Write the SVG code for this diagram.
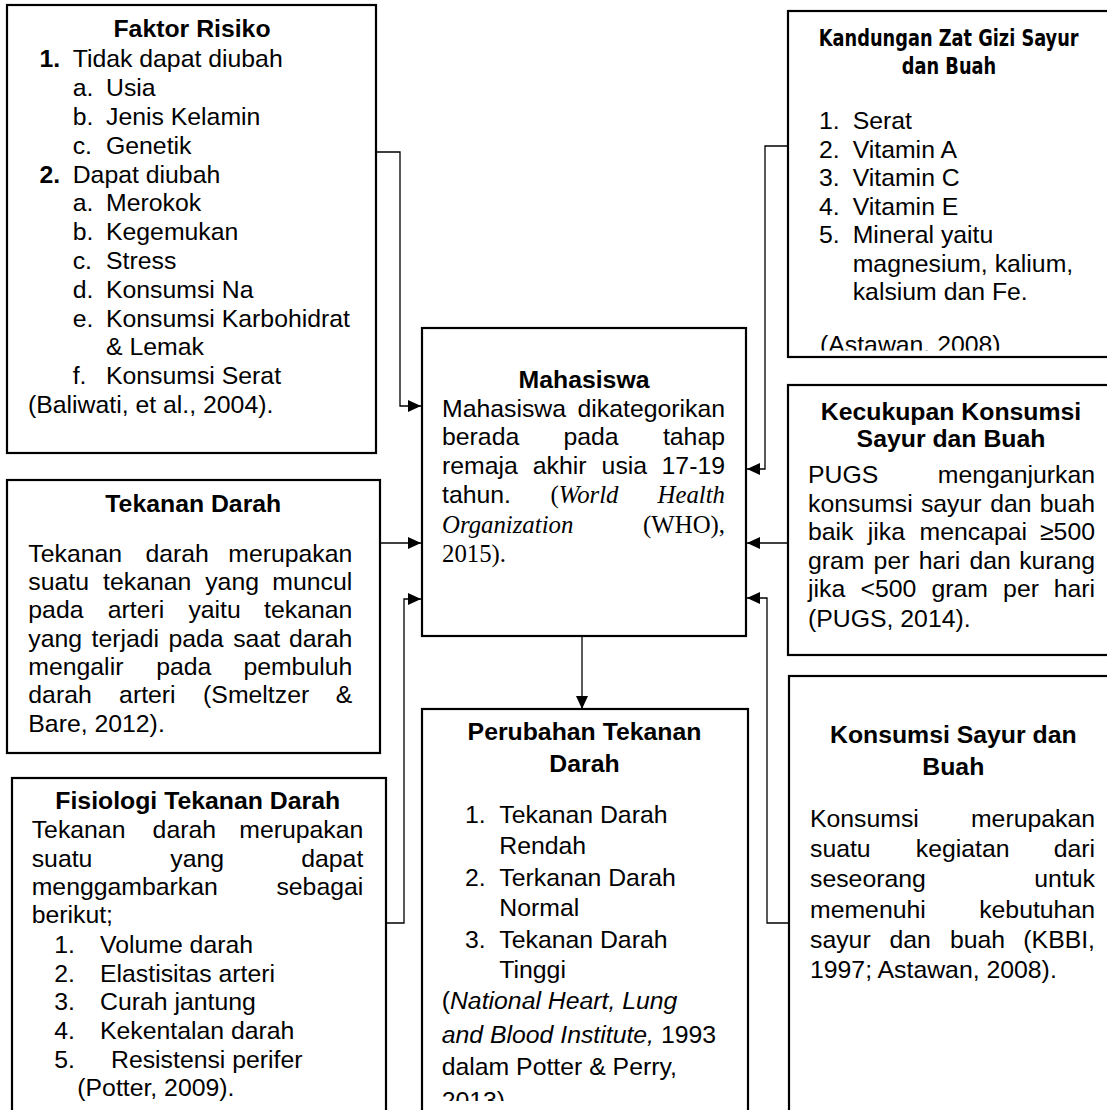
<svg xmlns="http://www.w3.org/2000/svg" width="1107" height="1110" viewBox="0 0 1107 1110">
<style>
.t{font-family:"Liberation Sans",Arial,sans-serif;font-size:24.8px;fill:#000}
.b{font-weight:bold}
.i{font-style:italic}
.s{font-family:"Liberation Serif","Times New Roman",serif}
.n{font-family:"DejaVu Sans Condensed","DejaVu Sans",sans-serif;font-stretch:condensed;font-weight:bold;font-size:23.5px}
.box{fill:#fff;stroke:#000;stroke-width:2.2}
.c{fill:none;stroke:#000;stroke-width:1.3}
</style>
<defs>
<marker id="arr" markerUnits="userSpaceOnUse" markerWidth="13" markerHeight="12" refX="13" refY="6" orient="auto">
<path d="M0,0 L13,6 L0,12 z" fill="#000"/>
</marker>
<clipPath id="clipK"><rect x="788" y="300" width="330" height="50.5"/></clipPath>
<clipPath id="clipP"><rect x="422" y="1080" width="330" height="21"/></clipPath>
</defs>

<g id="connectors">
<path class="c" d="M376,152 H400 V406 H421" marker-end="url(#arr)"/>
<path class="c" d="M788,146 H765 V469 H747" marker-end="url(#arr)"/>
<path class="c" d="M788,543 H747" marker-end="url(#arr)"/>
<path class="c" d="M789,923 H767 V598 H747" marker-end="url(#arr)"/>
<path class="c" d="M380,543 H421" marker-end="url(#arr)"/>
<path class="c" d="M386,923 H404 V599 H421" marker-end="url(#arr)"/>
<path class="c" d="M582,636 V709" marker-end="url(#arr)"/>
</g>

<g id="faktor-risiko">
<rect class="box" x="7" y="5" width="369" height="448"/>
<text class="t b" x="192" y="37" text-anchor="middle">Faktor Risiko</text>
<text class="t b" x="39.5" y="66.7">1.</text>
<text class="t" x="72.7" y="66.7">Tidak dapat diubah</text>
<text class="t" x="72.7" y="95.7">a.</text><text class="t" x="106" y="95.7">Usia</text>
<text class="t" x="72.7" y="124.7">b.</text><text class="t" x="106" y="124.7">Jenis Kelamin</text>
<text class="t" x="72.7" y="153.7">c.</text><text class="t" x="106" y="153.7">Genetik</text>
<text class="t b" x="39.5" y="182.7">2.</text>
<text class="t" x="72.7" y="182.7">Dapat diubah</text>
<text class="t" x="72.7" y="211.3">a.</text><text class="t" x="106" y="211.3">Merokok</text>
<text class="t" x="72.7" y="240">b.</text><text class="t" x="106" y="240">Kegemukan</text>
<text class="t" x="72.7" y="268.7">c.</text><text class="t" x="106" y="268.7">Stress</text>
<text class="t" x="72.7" y="297.5">d.</text><text class="t" x="106" y="297.5">Konsumsi Na</text>
<text class="t" x="72.7" y="326.5">e.</text><text class="t" x="106" y="326.5">Konsumsi Karbohidrat</text>
<text class="t" x="106" y="355">&amp; Lemak</text>
<text class="t" x="72.7" y="384">f.</text><text class="t" x="106" y="384">Konsumsi Serat</text>
<text class="t" x="28" y="412.5">(Baliwati, et al., 2004).</text>
</g>

<g id="kandungan-zat-gizi">
<rect class="box" x="788" y="11" width="330" height="346"/>
<text class="n" transform="translate(948.7,46) scale(0.84,1)" text-anchor="middle">Kandungan Zat Gizi Sayur</text>
<text class="n" transform="translate(949,73.5) scale(0.84,1)" text-anchor="middle">dan Buah</text>
<text class="t" x="819" y="129">1.</text><text class="t" x="852.7" y="129">Serat</text>
<text class="t" x="819" y="157.5">2.</text><text class="t" x="852.7" y="157.5">Vitamin A</text>
<text class="t" x="819" y="186">3.</text><text class="t" x="852.7" y="186">Vitamin C</text>
<text class="t" x="819" y="214.5">4.</text><text class="t" x="852.7" y="214.5">Vitamin E</text>
<text class="t" x="819" y="243">5.</text><text class="t" x="852.7" y="243">Mineral yaitu</text>
<text class="t" x="852.7" y="271.5">magnesium, kalium,</text>
<text class="t" x="852.7" y="300">kalsium dan Fe.</text>
<g clip-path="url(#clipK)">
<text class="t" x="820" y="353">(Astawan. 2008)</text>
</g>
</g>

<g id="mahasiswa">
<rect class="box" x="422" y="328" width="324" height="308"/>
<text class="t b" x="584" y="388.3" text-anchor="middle">Mahasiswa</text>
<text class="t" x="442" y="416.7">Mahasiswa</text><text class="t" x="725" y="416.7" text-anchor="end">dikategorikan</text>
<text class="t" x="442" y="445">berada</text><text class="t" x="563.5" y="445">pada</text><text class="t" x="725" y="445" text-anchor="end">tahap</text>
<text class="t" x="442" y="474">remaja</text><text class="t" x="532.7" y="474">akhir</text><text class="t" x="601.6" y="474">usia</text><text class="t" x="725" y="474" text-anchor="end">17-19</text>
<text class="t" x="442" y="503.3">tahun.</text>
<text class="t s" x="550.5" y="503.3">(<tspan class="i">World</tspan></text>
<text class="t s i" x="725" y="503.3" text-anchor="end">Health</text>
<text class="t s i" x="442" y="532.7">Organization</text>
<text class="t s" x="725" y="532.7" text-anchor="end">(WHO),</text>
<text class="t s" x="442" y="561.7">2015).</text>
</g>

<g id="kecukupan-konsumsi">
<rect class="box" x="788" y="385" width="330" height="270"/>
<text class="t b" x="951" y="420" text-anchor="middle">Kecukupan Konsumsi</text>
<text class="t b" x="951" y="447.3" text-anchor="middle">Sayur dan Buah</text>
<text class="t" x="808" y="482.7">PUGS</text><text class="t" x="1095" y="482.7" text-anchor="end">menganjurkan</text>
<text class="t" x="808" y="511.7">konsumsi</text><text class="t" x="920.9" y="511.7">sayur</text><text class="t" x="990.2" y="511.7">dan</text><text class="t" x="1095" y="511.7" text-anchor="end">buah</text>
<text class="t" x="808" y="540">baik</text><text class="t" x="867.8" y="540">jika</text><text class="t" x="919.5" y="540">mencapai</text><text class="t" x="1095" y="540" text-anchor="end">≥500</text>
<text class="t" x="808" y="568.5">gram</text><text class="t" x="873.6" y="568.5">per</text><text class="t" x="918.8" y="568.5">hari</text><text class="t" x="969.4" y="568.5">dan</text><text class="t" x="1095" y="568.5" text-anchor="end">kurang</text>
<text class="t" x="808" y="597.3">jika</text><text class="t" x="860.5" y="597.3">&lt;500</text><text class="t" x="931.5" y="597.3">gram</text><text class="t" x="1003.1" y="597.3">per</text><text class="t" x="1095" y="597.3" text-anchor="end">hari</text>
<text class="t" x="808" y="626.5">(PUGS, 2014).</text>
</g>

<g id="tekanan-darah">
<rect class="box" x="7" y="480" width="373" height="273"/>
<text class="t b" x="193.3" y="511.7" text-anchor="middle">Tekanan Darah</text>
<text class="t" x="28.3" y="561.7">Tekanan</text><text class="t" x="145.4" y="561.7">darah</text><text class="t" x="352.3" y="561.7" text-anchor="end">merupakan</text>
<text class="t" x="28.3" y="590">suatu</text><text class="t" x="103.1" y="590">tekanan</text><text class="t" x="205.2" y="590">yang</text><text class="t" x="352.3" y="590" text-anchor="end">muncul</text>
<text class="t" x="28.3" y="618.3">pada</text><text class="t" x="107.7" y="618.3">arteri</text><text class="t" x="188.4" y="618.3">yaitu</text><text class="t" x="352.3" y="618.3" text-anchor="end">tekanan</text>
<text class="t" x="28.3" y="646.7">yang</text><text class="t" x="91.6" y="646.7">terjadi</text><text class="t" x="168.5" y="646.7">pada</text><text class="t" x="233.2" y="646.7">saat</text><text class="t" x="352.3" y="646.7" text-anchor="end">darah</text>
<text class="t" x="28.3" y="675">mengalir</text><text class="t" x="156.2" y="675">pada</text><text class="t" x="352.3" y="675" text-anchor="end">pembuluh</text>
<text class="t" x="28.3" y="703.3">darah</text><text class="t" x="119.1" y="703.3">arteri</text><text class="t" x="203.1" y="703.3">(Smeltzer</text><text class="t" x="352.3" y="703.3" text-anchor="end">&amp;</text>
<text class="t" x="28.3" y="731.7">Bare, 2012).</text>
</g>

<g id="perubahan-tekanan-darah">
<rect class="box" x="422" y="709" width="326" height="410"/>
<text class="t b" x="584.5" y="740" text-anchor="middle">Perubahan Tekanan</text>
<text class="t b" x="584.5" y="771.7" text-anchor="middle">Darah</text>
<text class="t" x="465" y="823.3">1.</text><text class="t" x="499.3" y="823.3">Tekanan Darah</text>
<text class="t" x="499.3" y="854">Rendah</text>
<text class="t" x="465" y="885.7">2.</text><text class="t" x="499.3" y="885.7">Terkanan Darah</text>
<text class="t" x="499.3" y="916">Normal</text>
<text class="t" x="465" y="947.7">3.</text><text class="t" x="499.3" y="947.7">Tekanan Darah</text>
<text class="t" x="499.3" y="978.3">Tinggi</text>
<text class="t" x="441.7" y="1009.3">(<tspan class="i">National Heart, Lung</tspan></text>
<text class="t" x="441.7" y="1043.3"><tspan class="i">and Blood Institute,</tspan> 1993</text>
<text class="t" x="441.7" y="1075">dalam Potter &amp; Perry,</text>
<g clip-path="url(#clipP)">
<text class="t" x="441.7" y="1109">2013).</text>
</g>
</g>

<g id="konsumsi-sayur-buah">
<rect class="box" x="789" y="676" width="330" height="445"/>
<text class="t b" x="953.3" y="743.3" text-anchor="middle">Konsumsi Sayur dan</text>
<text class="t b" x="953.3" y="775" text-anchor="middle">Buah</text>
<text class="t" x="810" y="826.7">Konsumsi</text><text class="t" x="1095" y="826.7" text-anchor="end">merupakan</text>
<text class="t" x="810" y="856.7">suatu</text><text class="t" x="915.8" y="856.7">kegiatan</text><text class="t" x="1095" y="856.7" text-anchor="end">dari</text>
<text class="t" x="810" y="886.7">seseorang</text><text class="t" x="1095" y="886.7" text-anchor="end">untuk</text>
<text class="t" x="810" y="918.3">memenuhi</text><text class="t" x="1095" y="918.3" text-anchor="end">kebutuhan</text>
<text class="t" x="810" y="948.3">sayur</text><text class="t" x="889.5" y="948.3">dan</text><text class="t" x="950" y="948.3">buah</text><text class="t" x="1095" y="948.3" text-anchor="end">(KBBI,</text>
<text class="t" x="810" y="978.3">1997; Astawan, 2008).</text>
</g>

<g id="fisiologi-tekanan-darah">
<rect class="box" x="12" y="778" width="374" height="345"/>
<text class="t b" x="197.7" y="809" text-anchor="middle">Fisiologi Tekanan Darah</text>
<text class="t" x="31.7" y="838.3">Tekanan</text><text class="t" x="152.6" y="838.3">darah</text><text class="t" x="363.3" y="838.3" text-anchor="end">merupakan</text>
<text class="t" x="31.7" y="866.7">suatu</text><text class="t" x="170.3" y="866.7">yang</text><text class="t" x="363.3" y="866.7" text-anchor="end">dapat</text>
<text class="t" x="31.7" y="895">menggambarkan</text><text class="t" x="363.3" y="895" text-anchor="end">sebagai</text>
<text class="t" x="31.7" y="923.3">berikut;</text>
<text class="t" x="54.3" y="952.7">1.</text><text class="t" x="100" y="952.7">Volume darah</text>
<text class="t" x="54.3" y="981.7">2.</text><text class="t" x="100" y="981.7">Elastisitas arteri</text>
<text class="t" x="54.3" y="1010.3">3.</text><text class="t" x="100" y="1010.3">Curah jantung</text>
<text class="t" x="54.3" y="1039">4.</text><text class="t" x="100" y="1039">Kekentalan darah</text>
<text class="t" x="54.3" y="1068.3">5.</text><text class="t" x="111" y="1068.3">Resistensi perifer</text>
<text class="t" x="77.3" y="1095.5">(Potter, 2009).</text>
</g>
</svg>
